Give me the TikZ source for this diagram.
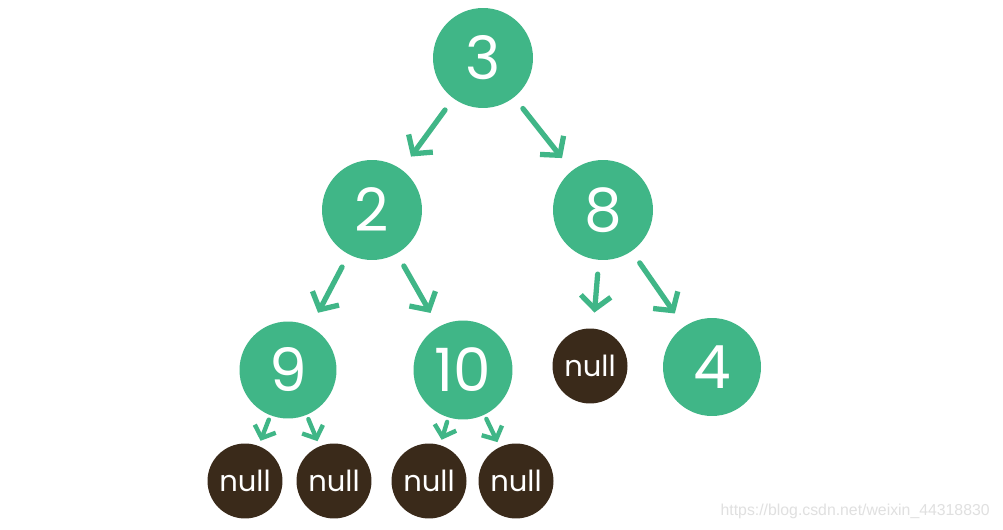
\documentclass[tikz,border=0pt]{standalone}
\usepackage{fontspec}
\setmainfont{Poppins}
\usetikzlibrary{arrows.meta}
\definecolor{leafgreen}{RGB}{64,182,135}
\definecolor{nullbrown}{RGB}{58,42,26}
\begin{document}
\begin{tikzpicture}[x=0.02cm, y=-0.02cm,
    tnode/.style={circle, fill=leafgreen, text=white, font=\fontsize{34}{34}\selectfont, inner sep=0pt},
    nnode/.style={circle, fill=nullbrown, text=white, font=\fontsize{16.5}{16}\selectfont, minimum size=1.5cm, inner sep=0pt},
    edge/.style={-{Straight Barb[length=2.6mm, width=6mm]}, leafgreen, line width=3pt, line cap=round, shorten <=8pt, shorten >=9pt},
    small/.style={-{Straight Barb[length=2mm, width=4.5mm]}, leafgreen, line width=2.5pt, line cap=round, shorten <=2.5pt, shorten >=3pt}]
        % canvas
        \fill[white] (0,0) rectangle (1003,530);
        \useasboundingbox (0,0) rectangle (1003,530);

        % tree nodes
        \node[tnode, minimum size=2.0cm] (n3) at (483,58) {3};
        \node[tnode, minimum size=2.0cm] (n2) at (372,210) {2};
        \node[tnode, minimum size=2.0cm] (n8) at (603,210) {8};
        \node[tnode, minimum size=1.94cm] (n9) at (288,370) {9};
        \node[tnode, minimum size=1.98cm] (n10) at (463,370) {10};
        \node[tnode, minimum size=1.96cm] (n4) at (712,367) {4};

        % empty children
        \node[nnode] (null5) at (590,366) {null};
        \node[nnode] (null1) at (245,481) {null};
        \node[nnode] (null2) at (334,481) {null};
        \node[nnode] (null3) at (429,481) {null};
        \node[nnode] (null4) at (516,481) {null};

        % links
        \draw[edge] (n3) -- (n2);
        \draw[edge] (n3) -- (n8);
        \draw[edge] (n2) -- (n9);
        \draw[edge] (n2) -- (n10);
        \draw[edge] (n8) -- (null5);
        \draw[edge] (n8) -- (n4);
        \draw[small] (n9) -- (null1);
        \draw[small] (n9) -- (null2);
        \draw[small] (n10) -- (null3);
        \draw[small] (n10) -- (null4);

        % watermark
        \node[font=\fontspec{Liberation Sans}\fontsize{9}{10}\selectfont, text=black!12, anchor=east, inner sep=0pt] (mark) at (990,511) {https://blog.csdn.net/weixin\_44318830};
    \end{tikzpicture}
\end{document}
